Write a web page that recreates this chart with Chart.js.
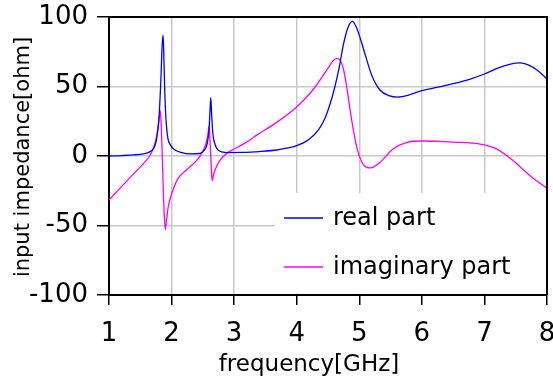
<!DOCTYPE html>
<html>
<head>
<meta charset="utf-8">
<script src="https://cdn.jsdelivr.net/npm/chart.js@4.4.1/dist/chart.umd.min.js"></script>
<style>
  html, body { margin: 0; padding: 0; background: #fff; }
</style>
</head>
<body>
<canvas id="impChart" width="553" height="381"></canvas>
<script>
// values (GHz / ohm)
const realFreq = [1.0, 1.2, 1.4, 1.55, 1.65, 1.72, 1.76, 1.8, 1.83, 1.85, 1.864, 1.875, 1.89, 1.91, 1.94, 1.98, 2.05, 2.15, 2.3, 2.45, 2.52, 2.57, 2.6, 2.615, 2.627, 2.64, 2.66, 2.69, 2.73, 2.8, 2.9, 3.1, 3.4, 3.7, 4.0, 4.2, 4.35, 4.45, 4.53, 4.6, 4.68, 4.75, 4.82, 4.89, 4.95, 5.02, 5.1, 5.2, 5.33, 5.47, 5.62, 5.8, 6.0, 6.25, 6.5, 6.75, 7.0, 7.2, 7.4, 7.57, 7.7, 7.85, 8.0];
const realPart = [0, 0.3, 0.8, 1.6, 3, 6, 12, 28, 56, 80, 87, 75, 48, 27, 13, 8, 4.5, 2.6, 1.5, 1.8, 4, 9, 20, 33, 42, 30, 16, 9, 5, 3, 2.5, 2.6, 3.2, 4.5, 7.4, 12, 19, 27, 37, 48, 64, 81, 92.5, 96.8, 93, 84, 72, 58, 47.5, 43.5, 42.4, 44, 47, 49.5, 52, 55, 59, 63, 66, 67, 65.5, 61.5, 55.4];

const imagFreq = [1.0, 1.2, 1.4, 1.55, 1.65, 1.72, 1.76, 1.785, 1.805, 1.82, 1.835, 1.85, 1.865, 1.88, 1.9, 1.92, 1.945, 2.0, 2.1, 2.25, 2.42, 2.5, 2.55, 2.58, 2.6, 2.615, 2.635, 2.648, 2.67, 2.7, 2.77, 2.9, 3.0, 3.2, 3.36, 3.68, 4.0, 4.21, 4.3, 4.42, 4.52, 4.58, 4.64, 4.7, 4.75, 4.8, 4.88, 4.96, 5.06, 5.18, 5.33, 5.54, 5.76, 6.0, 6.5, 6.93, 7.2, 7.46, 7.73, 8.0];
const imagPart = [-31.7, -22, -12.5, -5.5, 0, 7, 14, 21, 28, 32.6, 22, 2, -20, -40, -53, -46, -37, -27.4, -16.5, -9.5, -2.2, 3.5, 9, 15, 21.8, 10, -8, -17.8, -13.5, -9.5, -3.4, 2.6, 5, 10, 15, 24.2, 35.3, 45, 50, 57.8, 64.5, 68.5, 70.2, 68.5, 62, 49.4, 25.4, 6.2, -5.8, -8.6, -4.6, 5, 9.8, 10.8, 10, 8.6, 5, -3.4, -14.2, -23.3];

const freqTicks = [1, 2, 3, 4, 5, 6, 7, 8];
const impTicks = [-100, -50, 0, 50, 100];
const seriesNames = ["real part", "imaginary part"];
const xTitle = "frequency[GHz]";
const yTitle = "input impedance[ohm]";

const FONT = '"DejaVu Sans", sans-serif';

function toPoints(xs, ys) {
  return xs.map((x, i) => ({ x: x, y: ys[i] }));
}

// frame, legend box and axis titles
const framePlugin = {
  id: "frame",
  beforeDatasetsDraw(chart) {
    const { ctx, chartArea: a } = chart;
    ctx.save();
    ctx.fillStyle = "#fff";
    ctx.fillRect(275, 193, a.right - 275 - 1, a.bottom - 193 - 1.5);
    ctx.restore();
  },
  afterDatasetsDraw(chart) {
    const { ctx, chartArea: a } = chart;
    ctx.save();
    ctx.strokeStyle = "#000";
    ctx.lineWidth = 2;
    ctx.beginPath();
    ctx.moveTo(a.left, a.top);
    ctx.lineTo(a.right, a.top);
    ctx.lineTo(a.right, a.bottom);
    ctx.stroke();

    // legend
    ctx.font = "24px " + FONT;
    ctx.textBaseline = "middle";
    ctx.textAlign = "left";
    chart.data.datasets.forEach((ds, i) => {
      const y = 219 + i * 49;
      ctx.strokeStyle = ds.borderColor;
      ctx.lineWidth = 1.3;
      ctx.beginPath();
      ctx.moveTo(284, y - 1);
      ctx.lineTo(323, y - 1);
      ctx.stroke();
      ctx.fillStyle = "#000";
      ctx.fillText(ds.label, 333, y);
    });

    // axis titles
    ctx.fillStyle = "#000";
    ctx.textBaseline = "alphabetic";
    ctx.textAlign = "center";
    ctx.font = "23px " + FONT;
    ctx.fillText(xTitle, 309, 371);
    ctx.translate(29, 157);
    ctx.rotate(-Math.PI / 2);
    ctx.font = "21px " + FONT;
    ctx.fillText(yTitle, 0, 0);
    ctx.restore();
  },
};

const chart = new Chart(document.getElementById("impChart"), {
  type: "line",
  data: {
    datasets: [
      {
        label: seriesNames[0],
        data: toPoints(realFreq, realPart),
        borderColor: "#0000ff",
        borderWidth: 1.3,
        pointRadius: 0,
        cubicInterpolationMode: "monotone",
        fill: false,
      },
      {
        label: seriesNames[1],
        data: toPoints(imagFreq, imagPart),
        borderColor: "#ff00ff",
        borderWidth: 1.3,
        pointRadius: 0,
        cubicInterpolationMode: "monotone",
        fill: false,
      },
    ],
  },
  options: {
    responsive: false,
    animation: false,
    devicePixelRatio: 1,
    layout: { padding: { top: 17, right: 6, left: 0, bottom: 0 } },
    plugins: {
      legend: { display: false },
      tooltip: { enabled: false },
    },
    scales: {
      x: {
        type: "linear",
        min: 1,
        max: 8,
        afterBuildTicks: (s) => {
          s.ticks = freqTicks.map((v) => ({ value: v }));
        },
        afterFit: (s) => {
          s.height = 86;
          s.paddingLeft = 0;
          s.paddingRight = 0;
        },
        ticks: {
          color: "#000",
          font: { family: FONT, size: 26 },
          padding: 14,
          maxRotation: 0,
          autoSkip: false,
        },
        grid: {
          color: "#c8c8c8",
          lineWidth: 1.5,
          tickColor: "#000",
          tickLength: 10,
          tickWidth: 1.5,
        },
        border: { color: "#000", width: 2 },
      },
      y: {
        min: -100,
        max: 100,
        afterBuildTicks: (s) => {
          s.ticks = impTicks.map((v) => ({ value: v }));
        },
        afterFit: (s) => {
          s.width = 109;
          s.paddingTop = 0;
          s.paddingBottom = 0;
        },
        ticks: {
          color: "#000",
          font: { family: FONT, size: 26 },
          padding: 9,
        },
        grid: {
          color: "#c8c8c8",
          lineWidth: 1.5,
          tickColor: "#000",
          tickLength: 12,
          tickWidth: 1.5,
        },
        border: { color: "#000", width: 2 },
      },
    },
  },
  plugins: [framePlugin],
});
</script>
</body>
</html>
